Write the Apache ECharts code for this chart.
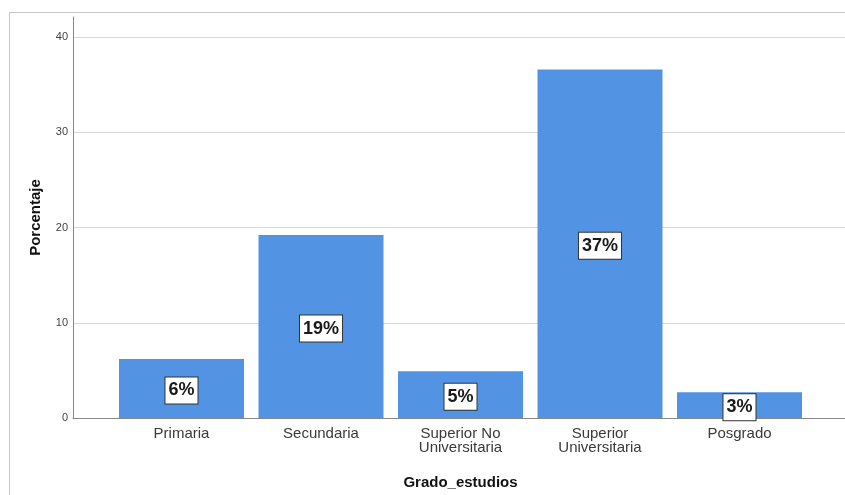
<!DOCTYPE html>
<html>
<head>
<meta charset="utf-8">
<script src="https://cdn.jsdelivr.net/npm/echarts@6/dist/echarts.min.js"></script>
<style>html,body{margin:0;padding:0;background:#fff;}#c{width:845px;height:495px;}</style>
</head>
<body>
<div id="c"></div>
<script>
const categories = ['Primaria', 'Secundaria', 'Superior No\nUniversitaria', 'Superior\nUniversitaria', 'Posgrado'];
const values = [6.2, 19.2, 4.9, 36.6, 2.7];
const valueLabels = ['6%', '19%', '5%', '37%', '3%'];
const yTicks = [0, 10, 20, 30, 40];
const xTitle = 'Grado_estudios';
const yTitle = 'Porcentaje';

const FONT = '"Liberation Sans", Arial, sans-serif';
const chart = echarts.init(document.getElementById('c'), null, {renderer: 'canvas'});
chart.setOption({
  animation: false,
  backgroundColor: '#fff',
  graphic: [
    {type: 'line', shape: {x1: 9.5, y1: 12, x2: 9.5, y2: 495}, style: {stroke: '#c8c8c8', lineWidth: 1}},
    {type: 'line', shape: {x1: 9, y1: 12.5, x2: 845, y2: 12.5}, style: {stroke: '#c8c8c8', lineWidth: 1}}
  ],
  grid: [
    {left: 73, right: 0, top: 17, bottom: 77},
    {left: 73, right: 0, top: 37, bottom: 77},
    {left: 111.75, width: 697.5, top: 37, bottom: 77}
  ],
  xAxis: [
    {type: 'value', gridIndex: 0, min: 0, max: 1, axisLine: {show: true, lineStyle: {color: '#888', width: 1}},
     axisTick: {show: false}, axisLabel: {show: false}, splitLine: {show: false}},
    {type: 'value', gridIndex: 1, min: 0, max: 1, show: false},
    {type: 'category', gridIndex: 2, data: categories,
     axisLine: {show: false}, axisTick: {show: false},
     axisLabel: {margin: 9, fontFamily: FONT, fontSize: 15, color: '#3a3a3a', lineHeight: 14},
     name: xTitle, nameLocation: 'middle', nameGap: 57,
     nameTextStyle: {fontFamily: FONT, fontSize: 15, fontWeight: 'bold', color: '#111'}}
  ],
  yAxis: [
    {type: 'value', gridIndex: 0, min: 0, max: 1, axisLine: {show: true, lineStyle: {color: '#888', width: 1}},
     axisTick: {show: false}, axisLabel: {show: false}, splitLine: {show: false}},
    {type: 'value', gridIndex: 1, min: yTicks[0], max: yTicks[yTicks.length - 1], interval: 10,
     axisLine: {show: false}, axisTick: {show: false},
     axisLabel: {margin: 5, fontFamily: FONT, fontSize: 11, color: '#444'},
     splitLine: {show: true, lineStyle: {color: '#d9d9d9', width: 1}},
     name: yTitle, nameLocation: 'middle', nameGap: 30, nameRotate: 90,
     nameTextStyle: {fontFamily: FONT, fontSize: 15, fontWeight: 'bold', color: '#111', padding: [0, 0, 0, 20]}},
    {type: 'value', gridIndex: 2, min: yTicks[0], max: yTicks[yTicks.length - 1], show: false}
  ],
  series: [{
    type: 'bar',
    xAxisIndex: 2, yAxisIndex: 2,
    data: values,
    barWidth: 125,
    itemStyle: {color: '#5393e3'},
    label: {
      show: true, position: 'inside', offset: [0, 2],
      formatter: p => valueLabels[p.dataIndex],
      fontFamily: FONT, fontSize: 18, fontWeight: 'bold', color: '#1a1a1a',
      backgroundColor: '#fff', borderColor: '#333', borderWidth: 1,
      padding: [4, 3, 3, 3], lineHeight: 19
    }
  }]
});
</script>
</body>
</html>
